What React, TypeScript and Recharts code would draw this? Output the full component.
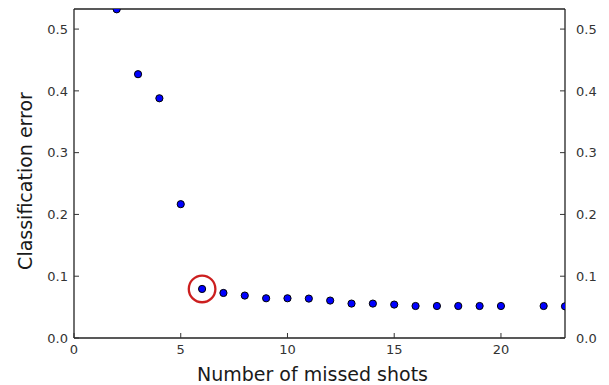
import React from 'react';
import { ScatterChart, Scatter, XAxis, YAxis, ReferenceDot, Label } from 'recharts';

const shots = [2, 3, 4, 5, 6, 7, 8, 9, 10, 11, 12, 13, 14, 15, 16, 17, 18, 19, 20, 22, 23];
const errors = [0.532, 0.427, 0.388, 0.2166, 0.0794, 0.0729, 0.0687, 0.0643, 0.0643, 0.0638, 0.0606, 0.0557, 0.0557, 0.0541, 0.0518, 0.0518, 0.0518, 0.0518, 0.0518, 0.0518, 0.0513];
const xTicks = [0, 5, 10, 15, 20];
const yTicks = [0, 0.1, 0.2, 0.3, 0.4, 0.5];
const highlightShot = 6;
const highlightError = 0.0794;

const data = shots.map((s, i) => ({ shots: s, error: errors[i] }));

const FONT = 'DejaVu Sans';
const TICK_COLOR = '#333';
const TICK_LEN = 5;

const PLOT = { left: 74, top: 9, right: 565, bottom: 338 };

const BottomTick = (p: any) => (
  <g>
    <line x1={p.x} x2={p.x} y1={p.y} y2={p.y - TICK_LEN} stroke="#333" strokeWidth={1} />
    <text x={p.x} y={p.y + 16} textAnchor="middle" fontFamily={FONT} fontSize={13} fill={TICK_COLOR}>
      {p.payload.value}
    </text>
  </g>
);
const TopTick = (p: any) => (
  <line x1={p.x} x2={p.x} y1={p.y} y2={p.y + TICK_LEN} stroke="#333" strokeWidth={1} />
);
const LeftTick = (p: any) => (
  <g>
    <line x1={p.x} x2={p.x + TICK_LEN} y1={p.y} y2={p.y} stroke="#333" strokeWidth={1} />
    <text x={p.x - 6} y={p.y + 4.7} textAnchor="end" fontFamily={FONT} fontSize={13} fill={TICK_COLOR}>
      {Number(p.payload.value).toFixed(1)}
    </text>
  </g>
);
const RightTick = (p: any) => (
  <g>
    <line x1={p.x} x2={p.x - TICK_LEN} y1={p.y} y2={p.y} stroke="#333" strokeWidth={1} />
    <text x={p.x + 11} y={p.y + 4.7} textAnchor="start" fontFamily={FONT} fontSize={13} fill={TICK_COLOR}>
      {Number(p.payload.value).toFixed(1)}
    </text>
  </g>
);

const Dot = (p: any) => (
  <circle
    cx={p.cx}
    cy={p.cy}
    r={3.6}
    fill="#0000ff"
    stroke="#000"
    strokeWidth={1}
    clipPath="url(#plotAreaClip)"
  />
);

const axisLine = { stroke: '#222', strokeWidth: 1.3 };

export default function App() {
  return (
    <div style={{ position: 'absolute', left: 0, top: 0 }}>
      <svg width={0} height={0} style={{ position: 'absolute' }}>
        <defs>
          <clipPath id="plotAreaClip" clipPathUnits="userSpaceOnUse">
            <rect
              x={PLOT.left}
              y={PLOT.top}
              width={PLOT.right - PLOT.left}
              height={PLOT.bottom - PLOT.top}
            />
          </clipPath>
        </defs>
      </svg>
      <ScatterChart width={609} height={385} margin={{ top: 0, right: 0, bottom: 0, left: 0 }}>
        <XAxis
          xAxisId={0}
          dataKey="shots"
          type="number"
          domain={[0, 23]}
          ticks={xTicks}
          interval={0}
          allowDataOverflow
          height={47}
          tickSize={0}
          tickMargin={0}
          tickLine={false}
          axisLine={axisLine}
          tick={BottomTick}
        >
          <Label
            content={(props: any) => {
              const vb = props.viewBox;
              return (
                <text
                  x={vb.x + vb.width / 2 - 7}
                  y={vb.y + vb.height - 4}
                  textAnchor="middle"
                  fontFamily={FONT}
                  fontSize={19}
                  fill="#1a1a1a"
                >
                  Number of missed shots
                </text>
              );
            }}
          />
        </XAxis>
        <XAxis
          xAxisId="top"
          orientation="top"
          type="number"
          domain={[0, 23]}
          ticks={xTicks}
          interval={0}
          allowDataOverflow
          height={9}
          tickSize={0}
          tickMargin={0}
          tickLine={false}
          axisLine={axisLine}
          tick={TopTick}
        />
        <YAxis
          yAxisId={0}
          dataKey="error"
          type="number"
          domain={[0, 0.5325]}
          ticks={yTicks}
          interval={0}
          allowDataOverflow
          width={74}
          tickSize={0}
          tickMargin={0}
          tickLine={false}
          axisLine={axisLine}
          tick={LeftTick}
        >
          <Label
            content={(props: any) => {
              const vb = props.viewBox;
              const cx = vb.x + 32;
              const cy = vb.y + vb.height / 2 + 7.5;
              return (
                <text
                  x={cx}
                  y={cy}
                  transform={`rotate(-90 ${cx} ${cy})`}
                  textAnchor="middle"
                  fontFamily={FONT}
                  fontSize={19}
                  fill="#1a1a1a"
                >
                  Classification error
                </text>
              );
            }}
          />
        </YAxis>
        <YAxis
          yAxisId="right"
          orientation="right"
          type="number"
          domain={[0, 0.5325]}
          ticks={yTicks}
          interval={0}
          allowDataOverflow
          width={44}
          tickSize={0}
          tickMargin={0}
          tickLine={false}
          axisLine={axisLine}
          tick={RightTick}
        />
        <Scatter data={data} xAxisId={0} yAxisId={0} shape={Dot} isAnimationActive={false} />
        <ReferenceDot
          x={highlightShot}
          y={highlightError}
          xAxisId={0}
          yAxisId={0}
          r={13.3}
          fill="none"
          stroke="#cc1f1f"
          strokeWidth={2.3}
        />
      </ScatterChart>
    </div>
  );
}
